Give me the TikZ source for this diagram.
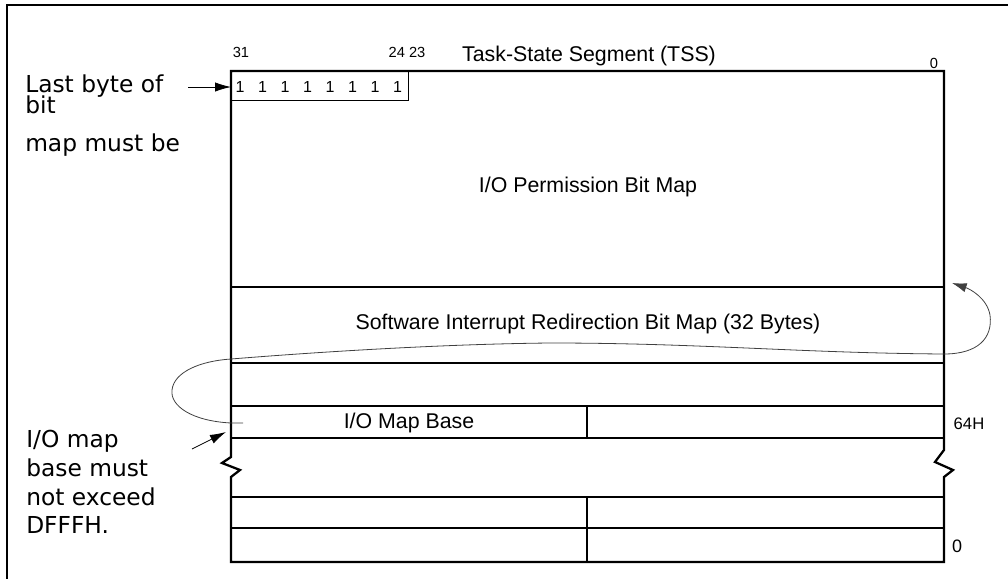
\documentclass[tikz,border=0pt]{standalone}
\usepackage{fontspec}
\setmainfont{Liberation Sans}
\newfontfamily\notefont{DejaVu Sans}
\usetikzlibrary{arrows.meta}

\tikzset{
    outline/.style={line width=1.7pt},
    cell/.style={line width=0.8pt},
    field/.style={font=\fontsize{16}{19}\selectfont, inner sep=0pt},
    bitnum/.style={font=\fontsize{11}{13}\selectfont, inner sep=0pt},
    note/.style={font=\notefont\fontsize{17.5}{21}\selectfont, inner sep=0pt, anchor=base west},
    loop/.style={line width=0.6pt, draw=black!75, -{Latex[length=11pt,width=7pt]}},
    pointer/.style={line width=0.6pt, -{Latex[length=12pt,width=7pt]}}
}

\begin{document}
\begin{tikzpicture}[x=0.75pt, y=-0.75pt]
    \useasboundingbox (0,0) rectangle (1008,579);

    % Рамка
    \draw[outline] (7,579) -- (7,5) -- (1008,5);

    % Контур TSS с разрывом
    \draw[outline] (231,438) -- (231,71) -- (944,71) -- (944,450)
        -- (935,462) -- (953,470) -- (944,477) -- (944,562)
        -- (231,562) -- (231,477) -- (240,470) -- (222,463) -- (231,457) -- cycle;
    \draw[outline] (231,287) -- (944,287);

    % Строки таблицы
    \foreach \y in {363, 406, 438, 497, 528}
        \draw[cell] (231,\y) -- (944,\y);
    \draw[cell] (587,406) -- (587,438);
    \draw[cell] (587,497) -- (587,562);

    % Последний байт битовой карты
    \node[draw, cell, inner sep=0pt, anchor=north west,
          minimum width=132.75pt, minimum height=21.75pt] (lastbyte) at (231,71) {};
    \foreach \i in {0,...,7}
        \node[bitnum, font=\fontsize{12}{14}\selectfont] (one\i) at (240+22.5*\i,87) {1};

    % Номера битов и заголовок
    \node[bitnum] (b31) at (241,52) {31};
    \node[bitnum] (b24) at (407,52) {24 23};
    \node[bitnum] (b0) at (934,63) {0};
    \node[field] (title) at (589,56) {Task-State Segment (TSS)};

    % Поля
    \node[field] (iopb) at (588,187) {I/O Permission Bit Map};
    \node[field] (sirb) at (588,324) {Software Interrupt Redirection Bit Map (32 Bytes)};
    \node[field] (iobase) at (409,423) {I/O Map Base};
    \node[bitnum, font=\fontsize{12.5}{15}\selectfont] (off64) at (969,424) {64H};
    \node[bitnum, font=\fontsize{13.5}{16}\selectfont] (off0) at (957,546) {0};

    % Пояснения слева
    \node[note] (lb1) at (25,92) {Last byte of};
    \node[note] (lb2) at (25,113) {bit};
    \node[note] (lb3) at (25,151) {map must be};
    \node[note] (mb1) at (26,447) {I/O map};
    \node[note] (mb2) at (26,476) {base must};
    \node[note] (mb3) at (26,505) {not exceed};
    \node[note] (mb4) at (26,533) {DFFFH.};

    % Стрелки
    \coordinate (lbtail) at (188,87);
    \draw[pointer] (lbtail) -- (lastbyte.west |- lbtail);
    \coordinate (mbtail) at (192,449);
    \coordinate (mbhead) at (226,432);
    \draw[pointer] (mbtail) -- (mbhead);

    % Петля от базы к карте прерываний
    \coordinate (loopstart) at (243,423);
    \coordinate (loopend) at (952,283);
    \draw[loop] (loopstart) -- (231,423) .. controls (192,421) and (170,406) .. (172,390)
        .. controls (174,372) and (200,361) .. (231,359)
        .. controls (330,351) and (450,344) .. (550,343)
        .. controls (700,343) and (800,353) .. (944,354)
        .. controls (978,354) and (993,338) .. (990,315)
        .. controls (987,298) and (970,289) .. (loopend);
\end{tikzpicture}
\end{document}
